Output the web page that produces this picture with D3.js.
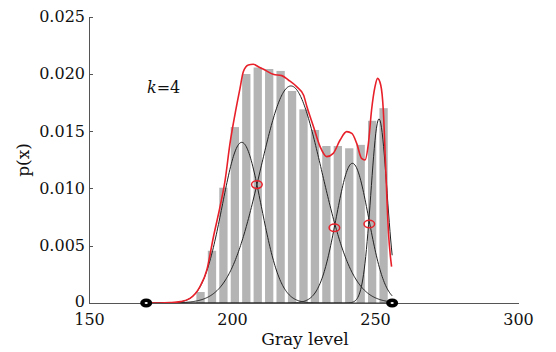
<!DOCTYPE html>
<html lang="en">
<head>
  <meta charset="UTF-8">
  <title>Gray level histogram, k=4</title>
  <script src="https://d3js.org/d3.v7.min.js"></script>
  <style>
    body { margin: 0; background: #fff; }
    svg { display: block; font-family: 'DejaVu Serif', serif; }
    .axis path, .axis line { stroke: #555; shape-rendering: crispEdges; }
    .axis text { font-size: 16px; fill: #111; font-family: 'DejaVu Serif', serif; }
  </style>
</head>
<body>
<div id="chart"></div>
<script>
  // histogram bins (gray level centres, bin width 4) and heights
  const binCenters = [189, 193, 197, 201, 205, 209, 213, 217, 221, 225, 229, 233, 237, 241, 245, 249, 253];
  const binValues = [0.00096, 0.00456, 0.01006, 0.01535, 0.01998, 0.02055, 0.02042, 0.02025, 0.0185,
    0.0169, 0.0151, 0.0137, 0.0137, 0.0135, 0.0138, 0.0159, 0.0170];

  // fitted gaussian components: mean, sd, peak height
  const compMeans = [203.4, 220.6, 242.1, 251.4];
  const compSds = [6.8, 10.8, 5.7, 2.8];
  const compPeaks = [0.01402, 0.01894, 0.01219, 0.01606];

  // red curve, traced
  const redX = [170, 174.8, 178.3, 182, 185.3, 188.8, 191.2, 193.5, 195.8, 197.6, 199.3, 201.0, 202.8, 203.95,
    205.7, 207.4, 209.2, 211.5, 214.4, 217.4, 219.7, 222.6, 225.0, 226.2, 228.5, 230.8, 233.1, 235.4,
    237.8, 240.1, 241.9, 243.6, 245.3, 246.5, 247.7, 248.8, 250.0, 250.9, 252.0, 252.9, 253.7, 254.7, 255.8];
  const redY = [0, 0, 0.00003, 0.00012, 0.0004, 0.00143, 0.00288, 0.00576, 0.00838, 0.01073, 0.01393, 0.0164,
    0.01873, 0.02018, 0.02077, 0.02083, 0.02062, 0.02033, 0.01996, 0.01984, 0.01946, 0.01888, 0.01815,
    0.01713, 0.01539, 0.01364, 0.01277, 0.01306, 0.01422, 0.01495, 0.0148, 0.01393, 0.01262, 0.01248,
    0.01393, 0.01684, 0.01888, 0.0196, 0.01902, 0.01684, 0.01204, 0.0062, 0.00317];

  // crossing points (red rings) and range ends (black dots)
  const crossX = [208.7, 235.8, 248.0];
  const crossY = [0.01033, 0.00657, 0.00689];
  const endX = [170, 256];

  const xTicks = [150, 200, 250, 300];
  const yTicks = [0, 0.005, 0.010, 0.015, 0.020, 0.025];

  const W = 556, H = 352;
  const svg = d3.select("#chart").append("svg").attr("width", W).attr("height", H);

  const x = d3.scaleLinear().domain([150, 300]).range([89, 518]);
  const y = d3.scaleLinear().domain([0, 0.025]).range([303, 16.5]);

  // bars
  const barW = 2.9;
  svg.append("g").selectAll("rect")
    .data(binCenters)
    .join("rect")
    .attr("x", (d) => x(d - barW / 2))
    .attr("width", x(barW) - x(0))
    .attr("y", (d, i) => y(binValues[i]))
    .attr("height", (d, i) => y(0) - y(binValues[i]))
    .attr("fill", "#b4b4b4");

  // gaussian components
  const xs = d3.range(170, 256.01, 0.25);
  const line = d3.line().x(d => x(d[0])).y(d => y(d[1]));
  compMeans.forEach((m, i) => {
    const pts = xs.map(v => [v, compPeaks[i] * Math.exp(-((v - m) ** 2) / (2 * compSds[i] ** 2))]);
    svg.append("path")
      .attr("d", line(pts))
      .attr("fill", "none")
      .attr("stroke", "#222")
      .attr("stroke-width", 1);
  });

  // red curve
  svg.append("path")
    .attr("d", d3.line().curve(d3.curveMonotoneX).x(d => x(d[0])).y(d => y(d[1]))(redX.map((v, i) => [v, redY[i]])))
    .attr("fill", "none")
    .attr("stroke", "#e8202a")
    .attr("stroke-width", 1.6);

  // axes
  const yAxisG = svg.append("g")
    .attr("class", "axis")
    .attr("transform", `translate(89,0)`)
    .call(d3.axisLeft(y).tickValues(yTicks).tickSizeInner(-4).tickSizeOuter(0).tickPadding(4)
      .tickFormat(d => d === 0 ? "0" : d3.format(".3f")(d)));
  // the "0" sits a touch higher so it clears the 150 below it
  yAxisG.selectAll(".tick text").filter(d => d === 0).attr("dy", "0.2em");

  svg.append("g")
    .attr("class", "axis")
    .attr("transform", `translate(0,303)`)
    .call(d3.axisBottom(x).tickValues(xTicks).tickSize(0).tickPadding(11).tickFormat(d3.format("d")));

  // red rings at crossings
  svg.append("g").selectAll("ellipse")
    .data(crossX)
    .join("ellipse")
    .attr("cx", d => x(d))
    .attr("cy", (d, i) => y(crossY[i]))
    .attr("rx", 5.3)
    .attr("ry", 3.8)
    .attr("fill", "none")
    .attr("stroke", "#e8202a")
    .attr("stroke-width", 1.5);

  // black end dots
  const ends = svg.append("g").selectAll("g").data(endX).join("g")
    .attr("transform", d => `translate(${x(d)},${y(0)})`);
  ends.append("ellipse").attr("rx", 6).attr("ry", 4.5).attr("fill", "#000");
  ends.append("ellipse").attr("rx", 1.6).attr("ry", 1.1).attr("fill", "#fff");

  // labels
  const k = svg.append("text").attr("x", 147).attr("y", 93).attr("font-size", 16).attr("fill", "#111");
  k.append("tspan").attr("font-style", "italic").text("k");
  k.append("tspan").text("=4");

  svg.append("text")
    .attr("x", 305).attr("y", 345)
    .attr("text-anchor", "middle")
    .attr("font-size", 17).attr("fill", "#111")
    .text("Gray level");

  svg.append("text")
    .attr("transform", "translate(29,160) rotate(-90)")
    .attr("text-anchor", "middle")
    .attr("font-size", 17).attr("fill", "#111")
    .text("p(x)");
</script>
</body>
</html>
